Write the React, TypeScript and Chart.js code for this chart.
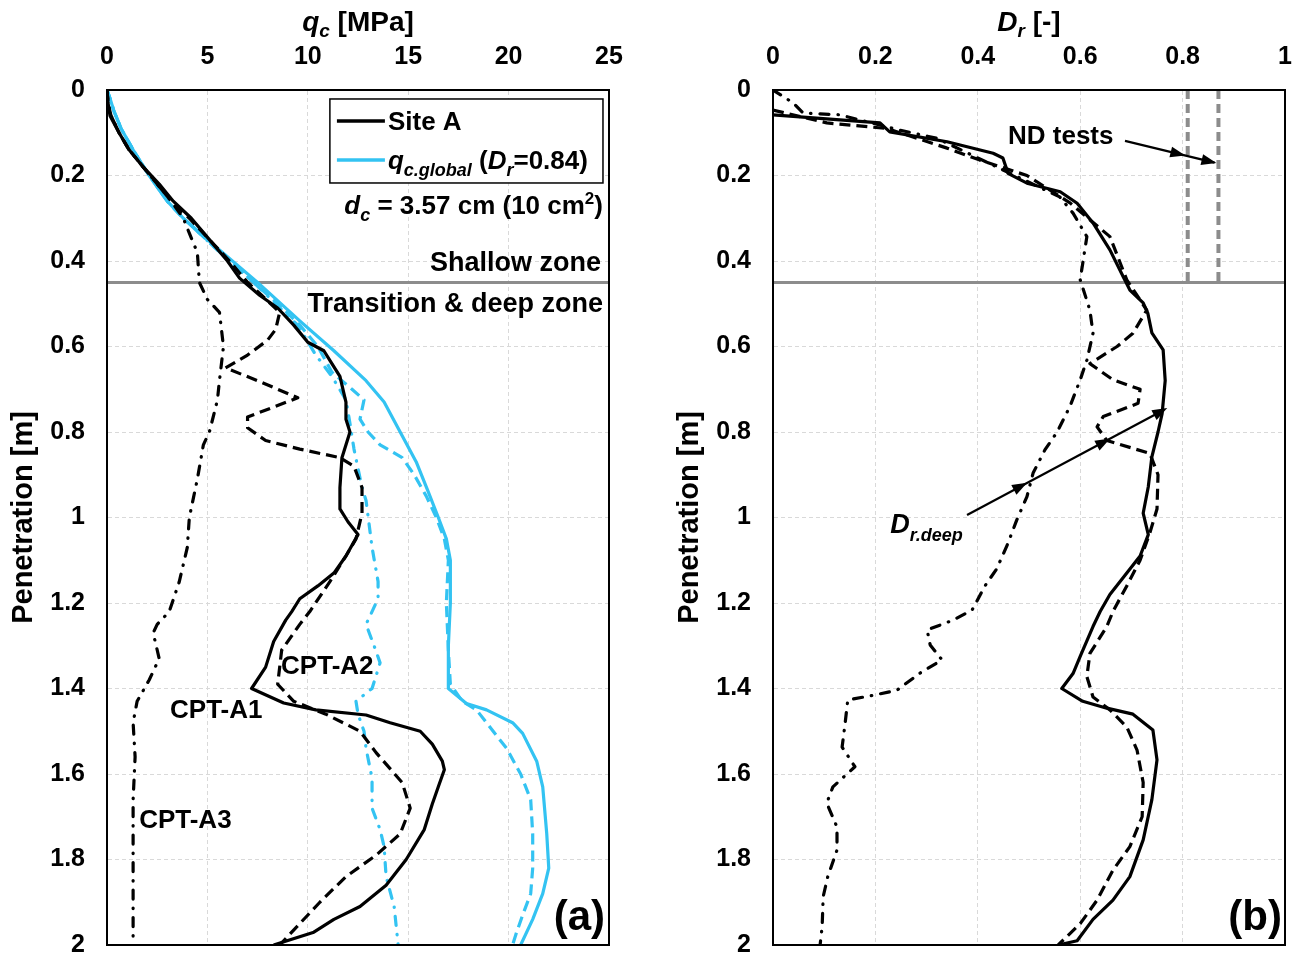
import React, { useEffect, useRef } from 'react';
import { Chart, registerables } from 'chart.js';

Chart.register(...registerables);

const FONT = "'Liberation Sans', Arial, Helvetica, sans-serif";
const BLACK = '#000000';
const CYAN = '#33c3f2';
const GRAY = '#8c8c8c';
const GRID = '#d9d9d9';

// ---------- Panel (a): cone resistance qc [MPa] vs penetration [m]  ([depth, qc]) ----------
const CPT_A1_QC: [number, number][] = [
  [0, 0], [0.03, 0.05], [0.06, 0.15], [0.1, 0.6], [0.14, 1.1], [0.18, 1.8], [0.22, 2.6], [0.26, 3.3], [0.3, 4.2],
  [0.35, 5.1], [0.4, 6.0], [0.44, 6.6], [0.48, 7.6], [0.51, 8.5], [0.55, 9.3], [0.59, 10.0], [0.61, 10.8],
  [0.64, 11.2], [0.67, 11.6], [0.73, 11.9], [0.77, 11.9], [0.8, 12.1], [0.86, 11.7], [0.93, 11.6], [0.98, 11.6],
  [1.01, 12.0], [1.04, 12.5], [1.09, 11.9], [1.13, 11.3], [1.16, 10.5], [1.19, 9.6], [1.22, 9.2], [1.24, 8.9],
  [1.29, 8.3], [1.35, 7.9], [1.4, 7.2], [1.434, 8.8], [1.45, 10.4], [1.462, 12.9], [1.48, 14.1], [1.5, 15.6],
  [1.53, 16.2], [1.57, 16.7], [1.59, 16.8], [1.63, 16.5], [1.67, 16.2], [1.73, 15.8], [1.8, 14.9], [1.86, 13.9],
  [1.91, 12.6], [1.94, 11.3], [1.97, 10.3], [2.0, 8.3],
];
const CPT_A2_QC: [number, number][] = [
  [0, 0], [0.03, 0.05], [0.06, 0.2], [0.1, 0.6], [0.14, 1.1], [0.18, 1.8], [0.22, 2.5], [0.26, 3.2], [0.3, 4.1],
  [0.35, 5.1], [0.4, 6.1], [0.45, 7.0], [0.48, 7.7], [0.52, 8.6], [0.56, 8.4], [0.585, 8.0], [0.62, 7.0],
  [0.65, 5.9], [0.68, 7.5], [0.72, 9.5], [0.765, 7.0], [0.79, 7.0], [0.82, 7.9], [0.84, 9.6], [0.86, 11.6],
  [0.88, 12.3], [0.93, 12.7], [0.99, 12.7], [1.05, 12.4], [1.09, 11.9], [1.15, 11.1], [1.22, 10.1], [1.25, 9.6],
  [1.31, 8.7], [1.39, 8.5], [1.43, 9.3], [1.46, 10.9], [1.5, 12.6], [1.55, 13.4], [1.62, 14.7], [1.68, 15.1],
  [1.74, 14.6], [1.79, 13.4], [1.84, 11.9], [1.9, 10.6], [1.96, 9.4], [2.0, 8.6],
];
const CPT_A3_QC: [number, number][] = [
  [0, 0], [0.03, 0.05], [0.06, 0.2], [0.1, 0.6], [0.14, 1.1], [0.18, 1.8], [0.22, 2.5], [0.26, 3.2], [0.3, 3.8],
  [0.335, 4.1], [0.38, 4.5], [0.45, 4.6], [0.49, 5.0], [0.52, 5.6], [0.6, 5.8], [0.68, 5.6], [0.725, 5.5],
  [0.8, 5.1], [0.83, 4.8], [0.91, 4.5], [1.0, 4.1], [1.07, 4.0], [1.15, 3.6], [1.22, 3.1], [1.25, 2.5],
  [1.27, 2.3], [1.33, 2.6], [1.38, 2.1], [1.43, 1.5], [1.48, 1.3], [1.56, 1.4], [1.66, 1.3], [1.72, 1.3],
  [1.82, 1.3], [1.91, 1.3], [2.0, 1.3],
];
const GLOBAL_A1_QC: [number, number][] = [
  [0, 0], [0.02, 0.15], [0.05, 0.35], [0.09, 0.7], [0.14, 1.3], [0.2, 2.1], [0.26, 3.0], [0.3, 3.8], [0.37, 5.5],
  [0.45, 7.5], [0.54, 9.6], [0.61, 11.3], [0.68, 12.9], [0.73, 13.8], [0.8, 14.6], [0.87, 15.4], [0.94, 16.0],
  [1.0, 16.5], [1.05, 16.9], [1.1, 17.1], [1.2, 17.1], [1.3, 17.0], [1.4, 17.0], [1.435, 17.9], [1.45, 18.9],
  [1.48, 20.2], [1.505, 20.7], [1.57, 21.4], [1.63, 21.7], [1.74, 21.9], [1.82, 22.0], [1.88, 21.7],
  [1.94, 21.2], [2.0, 20.6],
];
const GLOBAL_A2_QC: [number, number][] = [
  [0, 0], [0.02, 0.15], [0.05, 0.35], [0.09, 0.7], [0.14, 1.3], [0.2, 2.1], [0.26, 3.0], [0.3, 3.8], [0.37, 5.4],
  [0.45, 7.3], [0.5, 8.5], [0.55, 9.6], [0.6, 10.5], [0.66, 11.2], [0.7, 12.2], [0.725, 12.8], [0.77, 12.6],
  [0.8, 13.0], [0.83, 13.6], [0.86, 14.7], [0.9, 15.3], [0.95, 15.9], [1.0, 16.4], [1.05, 16.8], [1.1, 17.0],
  [1.2, 16.9], [1.31, 17.0], [1.39, 17.1], [1.43, 17.7], [1.45, 18.4], [1.48, 18.9], [1.54, 19.9], [1.6, 20.6],
  [1.66, 21.1], [1.74, 21.2], [1.82, 21.2], [1.88, 21.1], [1.93, 20.7], [1.97, 20.4], [2.0, 20.2],
];
const GLOBAL_A3_QC: [number, number][] = [
  [0, 0], [0.02, 0.15], [0.05, 0.35], [0.09, 0.7], [0.14, 1.3], [0.2, 2.1], [0.26, 3.0], [0.3, 3.8], [0.37, 5.4],
  [0.45, 7.3], [0.5, 8.4], [0.55, 9.5], [0.62, 10.4], [0.67, 11.2], [0.725, 11.9], [0.78, 12.1], [0.84, 12.3],
  [0.93, 12.7], [0.96, 12.9], [1.07, 13.2], [1.15, 13.5], [1.19, 13.5], [1.25, 12.9], [1.3, 13.3], [1.34, 13.6],
  [1.4, 13.2], [1.43, 12.4], [1.46, 12.5], [1.5, 12.8], [1.54, 12.9], [1.61, 13.2], [1.68, 13.2], [1.73, 13.6],
  [1.77, 13.8], [1.84, 13.9], [1.91, 14.3], [2.0, 14.5],
];

// ---------- Panel (b): relative density Dr [-] vs penetration [m]  ([depth, Dr]) ----------
const CPT_A1_DR: [number, number][] = [
  [0.058, 0], [0.077, 0.209], [0.098, 0.228], [0.121, 0.34], [0.148, 0.43], [0.159, 0.449], [0.18, 0.455],
  [0.195, 0.459], [0.218, 0.496], [0.238, 0.561], [0.265, 0.594], [0.311, 0.625], [0.374, 0.658], [0.437, 0.684],
  [0.468, 0.697], [0.498, 0.723], [0.522, 0.732], [0.568, 0.74], [0.608, 0.762], [0.68, 0.766], [0.757, 0.76],
  [0.8, 0.752], [0.858, 0.74], [0.928, 0.733], [0.99, 0.723], [1.04, 0.733], [1.09, 0.717], [1.13, 0.691],
  [1.18, 0.658], [1.22, 0.639], [1.255, 0.625], [1.325, 0.6], [1.365, 0.586], [1.4, 0.564], [1.43, 0.605],
  [1.446, 0.652], [1.46, 0.703], [1.497, 0.742], [1.567, 0.75], [1.66, 0.74], [1.754, 0.723], [1.84, 0.697],
  [1.895, 0.664], [1.94, 0.625], [1.99, 0.594], [2.0, 0.557],
];
const CPT_A2_DR: [number, number][] = [
  [0.047, 0], [0.077, 0.105], [0.09, 0.222], [0.136, 0.34], [0.164, 0.404], [0.2, 0.496], [0.264, 0.58],
  [0.343, 0.658], [0.444, 0.691], [0.515, 0.73], [0.569, 0.703], [0.6, 0.672], [0.64, 0.619], [0.678, 0.664],
  [0.7, 0.717], [0.733, 0.713], [0.764, 0.645], [0.788, 0.633], [0.82, 0.652], [0.85, 0.736], [0.9, 0.752],
  [0.98, 0.75], [1.036, 0.736], [1.1, 0.717], [1.16, 0.691], [1.22, 0.664], [1.255, 0.652], [1.318, 0.619],
  [1.372, 0.613], [1.42, 0.625], [1.45, 0.658], [1.49, 0.691], [1.544, 0.711], [1.62, 0.723], [1.7, 0.721],
  [1.77, 0.697], [1.825, 0.664], [1.895, 0.633], [1.95, 0.6], [2.0, 0.557],
];
const CPT_A3_DR: [number, number][] = [
  [0, 0], [0.03, 0.039], [0.054, 0.059], [0.058, 0.13], [0.094, 0.248], [0.113, 0.32], [0.18, 0.437],
  [0.25, 0.56], [0.288, 0.586], [0.343, 0.613], [0.405, 0.605], [0.444, 0.6], [0.515, 0.619], [0.569, 0.625],
  [0.632, 0.613], [0.678, 0.6], [0.74, 0.58], [0.8, 0.555], [0.842, 0.531], [0.896, 0.508], [0.951, 0.496],
  [1.006, 0.476], [1.06, 0.459], [1.12, 0.437], [1.16, 0.414], [1.216, 0.389], [1.24, 0.352], [1.263, 0.301],
  [1.298, 0.307], [1.333, 0.33], [1.364, 0.287], [1.404, 0.242], [1.415, 0.199], [1.427, 0.146], [1.48, 0.141],
  [1.537, 0.135], [1.583, 0.16], [1.63, 0.117], [1.668, 0.105], [1.724, 0.125], [1.778, 0.125], [1.84, 0.107],
  [1.887, 0.098], [1.957, 0.096], [2.0, 0.092],
];

const ND_TEST_DR = [0.81, 0.87];
const SHALLOW_LIMIT = 0.45;
const DEPTH_TICKS = { min: 0, max: 2, step: 0.2 };
const QC_TICKS = { min: 0, max: 25, step: 5 };
const DR_TICKS = { min: 0, max: 1, step: 0.2 };

const DASHED = [11, 6];
const DASHDOT = [9, 9, 0.5, 9];

const fmt = (v: number) => String(Math.round(Number(v) * 10) / 10);

function series(label: string, rows: [number, number][], color: string, dash: number[], width = 3.2, cap = 'butt') {
  return {
    label,
    data: rows.map(([d, v]) => ({ x: v, y: d })),
    showLine: true,
    borderColor: color,
    backgroundColor: color,
    borderWidth: width,
    borderDash: dash,
    borderCapStyle: cap,
    borderJoinStyle: 'round',
    pointRadius: 0,
    fill: false,
    tension: 0,
  };
}

type Run = { t: string; size: number; italic?: boolean; dy?: number };
const fontOf = (r: Run) => `${r.italic ? 'italic ' : ''}bold ${r.size}px ${FONT}`;

function drawRuns(ctx: CanvasRenderingContext2D, runs: Run[], x: number, y: number, align: 'left' | 'right' | 'center') {
  ctx.save();
  ctx.fillStyle = BLACK;
  ctx.textBaseline = 'alphabetic';
  ctx.textAlign = 'left';
  let w = 0;
  for (const r of runs) {
    ctx.font = fontOf(r);
    w += ctx.measureText(r.t).width;
  }
  let cx = align === 'left' ? x : align === 'right' ? x - w : x - w / 2;
  for (const r of runs) {
    ctx.font = fontOf(r);
    ctx.fillText(r.t, cx, y + (r.dy || 0));
    cx += ctx.measureText(r.t).width;
  }
  ctx.restore();
}

function yTitle(ctx: CanvasRenderingContext2D, x: number, y: number) {
  ctx.save();
  ctx.translate(x, y);
  ctx.rotate(-Math.PI / 2);
  ctx.fillStyle = BLACK;
  ctx.font = `bold 29px ${FONT}`;
  ctx.textAlign = 'center';
  ctx.textBaseline = 'middle';
  ctx.fillText('Penetration [m]', 0, 0);
  ctx.restore();
}

function arrowHead(ctx: CanvasRenderingContext2D, x: number, y: number, ang: number, len = 15, half = 5.5) {
  const c = Math.cos(ang), s = Math.sin(ang);
  ctx.beginPath();
  ctx.moveTo(x, y);
  ctx.lineTo(x - len * c + half * s, y - len * s - half * c);
  ctx.lineTo(x - len * c - half * s, y - len * s + half * c);
  ctx.closePath();
  ctx.fill();
}

function arrowLine(ctx: CanvasRenderingContext2D, x1: number, y1: number, x2: number, y2: number, heads: number[]) {
  ctx.save();
  ctx.strokeStyle = BLACK;
  ctx.fillStyle = BLACK;
  ctx.lineWidth = 2.2;
  ctx.setLineDash([]);
  ctx.beginPath();
  ctx.moveTo(x1, y1);
  ctx.lineTo(x2 - (x2 - x1) * 0.02, y2 - (y2 - y1) * 0.02);
  ctx.stroke();
  const ang = Math.atan2(y2 - y1, x2 - x1);
  for (const t of heads) arrowHead(ctx, x1 + (x2 - x1) * t, y1 + (y2 - y1) * t, ang);
  ctx.restore();
}

function frame(ctx: CanvasRenderingContext2D, ca: any) {
  ctx.save();
  ctx.strokeStyle = BLACK;
  ctx.lineWidth = 2;
  ctx.setLineDash([]);
  ctx.strokeRect(ca.left, ca.top, ca.right - ca.left, ca.bottom - ca.top);
  ctx.restore();
}

const panelAPlugin = {
  id: 'panelA',
  afterDraw(chart: any) {
    const { ctx, chartArea: ca } = chart;
    const X = (v: number) => chart.scales.x.getPixelForValue(v);
    const Y = (d: number) => chart.scales.y.getPixelForValue(d);
    frame(ctx, ca);
    drawRuns(ctx, [{ t: 'q', size: 28, italic: true }, { t: 'c', size: 19, italic: true, dy: 6 }, { t: ' [MPa]', size: 28 }], (ca.left + ca.right) / 2, 31, 'center');
    yTitle(ctx, ca.left - 83, (ca.top + ca.bottom) / 2);

    // legend box
    const bx1 = X(11.1), by1 = Y(0.021), bx2 = X(24.7), by2 = Y(0.2175);
    ctx.save();
    ctx.fillStyle = '#ffffff';
    ctx.fillRect(bx1, by1, bx2 - bx1, by2 - by1);
    ctx.strokeStyle = BLACK;
    ctx.lineWidth = 1.5;
    ctx.strokeRect(bx1, by1, bx2 - bx1, by2 - by1);
    ctx.lineWidth = 3.5;
    ctx.strokeStyle = BLACK;
    ctx.beginPath(); ctx.moveTo(X(11.45), Y(0.0725)); ctx.lineTo(X(13.84), Y(0.0725)); ctx.stroke();
    ctx.strokeStyle = CYAN;
    ctx.beginPath(); ctx.moveTo(X(11.45), Y(0.1637)); ctx.lineTo(X(13.84), Y(0.1637)); ctx.stroke();
    ctx.restore();
    drawRuns(ctx, [{ t: 'Site A', size: 26 }], X(13.99), Y(0.0725) + 9.5, 'left');
    drawRuns(ctx, [
      { t: 'q', size: 26, italic: true }, { t: 'c.global', size: 18, italic: true, dy: 7 },
      { t: ' (', size: 26 }, { t: 'D', size: 26, italic: true }, { t: 'r', size: 18, italic: true, dy: 7 },
      { t: '=0.84)', size: 26 },
    ], X(13.99), Y(0.1637) + 9.5, 'left');

    drawRuns(ctx, [
      { t: 'd', size: 26, italic: true }, { t: 'c', size: 18, italic: true, dy: 7 },
      { t: ' = 3.57 cm (10 cm', size: 26 }, { t: '2', size: 17, dy: -10 }, { t: ')', size: 26 },
    ], X(24.7), Y(0.269) + 9.5, 'right');
    drawRuns(ctx, [{ t: 'Shallow zone', size: 27 }], X(24.6), Y(0.4) + 9.5, 'right');
    drawRuns(ctx, [{ t: 'Transition & deep zone', size: 27 }], X(24.7), Y(0.498) + 9.5, 'right');
    drawRuns(ctx, [{ t: 'CPT-A1', size: 26 }], X(3.14), Y(1.446) + 9.5, 'left');
    drawRuns(ctx, [{ t: 'CPT-A2', size: 26 }], X(8.67), Y(1.345) + 9.5, 'left');
    drawRuns(ctx, [{ t: 'CPT-A3', size: 26 }], X(1.6), Y(1.703) + 9.5, 'left');
    drawRuns(ctx, [{ t: '(a)', size: 42 }], X(24.8), Y(1.93) + 15, 'right');
  },
};

const panelBPlugin = {
  id: 'panelB',
  afterDraw(chart: any) {
    const { ctx, chartArea: ca } = chart;
    const X = (v: number) => chart.scales.x.getPixelForValue(v);
    const Y = (d: number) => chart.scales.y.getPixelForValue(d);
    frame(ctx, ca);
    drawRuns(ctx, [{ t: 'D', size: 28, italic: true }, { t: 'r', size: 19, italic: true, dy: 6 }, { t: ' [-]', size: 28 }], (ca.left + ca.right) / 2, 31, 'center');
    yTitle(ctx, ca.left - 83, (ca.top + ca.bottom) / 2);

    drawRuns(ctx, [{ t: 'ND tests', size: 26 }], X(0.459), Y(0.103) + 9.5, 'left');
    arrowLine(ctx, X(0.6875), Y(0.119), X(0.866), Y(0.171), [0.66, 1]);

    drawRuns(ctx, [{ t: 'D', size: 27, italic: true }, { t: 'r.deep', size: 18, italic: true, dy: 8 }], X(0.229), Y(1.036), 'left');
    arrowLine(ctx, X(0.379), Y(0.994), X(0.77), Y(0.744), [0.3, 0.715, 1]);

    drawRuns(ctx, [{ t: '(b)', size: 42 }], X(0.994), Y(1.93) + 15, 'right');
  },
};

function xScale(t: { min: number; max: number; step: number }) {
  return {
    type: 'linear',
    position: 'top',
    min: t.min,
    max: t.max,
    ticks: {
      stepSize: t.step, padding: 18, color: BLACK, autoSkip: false, maxRotation: 0,
      font: { family: FONT, size: 25, weight: 'bold' },
      callback: (v: any) => fmt(v),
    },
    grid: { color: GRID, lineWidth: 1, drawTicks: false },
    border: { display: true, color: BLACK, width: 2, dash: [4, 3] },
    afterFit: (s: any) => { s.height = 90; s.paddingLeft = 0; s.paddingRight = 0; },
  };
}

function yScale(width: number) {
  return {
    type: 'linear',
    position: 'left',
    reverse: true,
    min: DEPTH_TICKS.min,
    max: DEPTH_TICKS.max,
    ticks: {
      stepSize: DEPTH_TICKS.step, padding: 22, color: BLACK, autoSkip: false,
      font: { family: FONT, size: 25, weight: 'bold' },
      callback: (v: any) => fmt(v),
    },
    grid: { color: GRID, lineWidth: 1, drawTicks: false },
    border: { display: true, color: BLACK, width: 2, dash: [4, 3] },
    afterFit: (s: any) => { s.width = width; s.paddingTop = 0; s.paddingBottom = 0; },
  };
}

function baseOptions(xs: any, ys: any, rightPad: number) {
  return {
    animation: false,
    responsive: false,
    devicePixelRatio: 1,
    events: [],
    layout: { padding: { left: 0, top: 0, right: rightPad, bottom: 14 } },
    plugins: { legend: { display: false }, tooltip: { enabled: false } },
    scales: { x: xs, y: ys },
  };
}

function configA(): any {
  const datasets = [
    series('CPT-A1', CPT_A1_QC, BLACK, []),
    series('CPT-A2', CPT_A2_QC, BLACK, DASHED),
    series('CPT-A3', CPT_A3_QC, BLACK, DASHDOT, 3.2, 'round'),
    series('qc.global A1', GLOBAL_A1_QC, CYAN, []),
    series('qc.global A2', GLOBAL_A2_QC, CYAN, DASHED),
    series('qc.global A3', GLOBAL_A3_QC, CYAN, DASHDOT, 3.2, 'round'),
    series('zone limit', [[SHALLOW_LIMIT, QC_TICKS.min], [SHALLOW_LIMIT, QC_TICKS.max]], GRAY, [], 3),
  ];
  return {
    type: 'scatter',
    data: { datasets },
    options: baseOptions(xScale(QC_TICKS), yScale(107), 43),
    plugins: [panelAPlugin],
  };
}

function configB(): any {
  const datasets = [
    series('CPT-A1', CPT_A1_DR, BLACK, []),
    series('CPT-A2', CPT_A2_DR, BLACK, DASHED),
    series('CPT-A3', CPT_A3_DR, BLACK, DASHDOT, 3.2, 'round'),
    ...ND_TEST_DR.map((v, i) => series('ND test ' + (i + 1), [[0, v], [SHALLOW_LIMIT, v]], GRAY, [9, 5], 4)),
    series('zone limit', [[SHALLOW_LIMIT, DR_TICKS.min], [SHALLOW_LIMIT, DR_TICKS.max]], GRAY, [], 3),
  ];
  return {
    type: 'scatter',
    data: { datasets },
    options: baseOptions(xScale(DR_TICKS), yScale(121), 19),
    plugins: [panelBPlugin],
  };
}

export default function App() {
  const refA = useRef<HTMLCanvasElement>(null);
  const refB = useRef<HTMLCanvasElement>(null);
  useEffect(() => {
    const a = new Chart(refA.current as HTMLCanvasElement, configA());
    const b = new Chart(refB.current as HTMLCanvasElement, configB());
    return () => { a.destroy(); b.destroy(); };
  }, []);
  return (
    <div style={{ position: 'absolute', left: 0, top: 0, width: 1304, height: 959, background: '#ffffff' }}>
      <canvas ref={refA} width={652} height={959} style={{ position: 'absolute', left: 0, top: 0, width: 652, height: 959 }} />
      <canvas ref={refB} width={652} height={959} style={{ position: 'absolute', left: 652, top: 0, width: 652, height: 959 }} />
    </div>
  );
}
